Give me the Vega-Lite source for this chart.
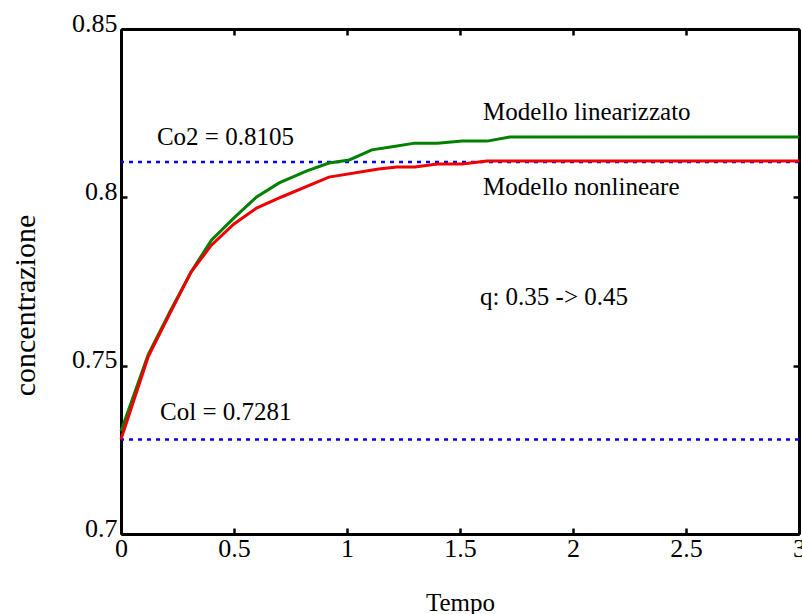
{
  "$schema": "https://vega.github.io/schema/vega-lite/v6.json",
  "width": 678,
  "height": 505,
  "autosize": {"type": "none"},
  "padding": {"left": 121, "top": 29, "right": 3, "bottom": 80},
  "background": "white",
  "config": {
    "view": {"stroke": null},
    "font": "Liberation Serif",
    "axis": {
      "grid": false,
      "domainColor": "black",
      "domainWidth": 3,
      "tickColor": "black",
      "tickWidth": 2.5,
      "tickSize": -6,
      "labelFont": "Liberation Serif",
      "labelFontSize": 26,
      "labelColor": "black",
      "titleFont": "Liberation Serif",
      "titleFontWeight": "normal",
      "titleColor": "black",
      "labelFlush": false,
      "labelOverlap": false
    }
  },
  "datasets": {
    "curves": [
      {"t": 0, "c": 0.7305, "model": "linearizzato"},
      {"t": 0.12, "c": 0.7532, "model": "linearizzato"},
      {"t": 0.22, "c": 0.7665, "model": "linearizzato"},
      {"t": 0.31, "c": 0.7778, "model": "linearizzato"},
      {"t": 0.40, "c": 0.7873, "model": "linearizzato"},
      {"t": 0.50, "c": 0.7939, "model": "linearizzato"},
      {"t": 0.60, "c": 0.8001, "model": "linearizzato"},
      {"t": 0.70, "c": 0.8043, "model": "linearizzato"},
      {"t": 0.82, "c": 0.8078, "model": "linearizzato"},
      {"t": 0.92, "c": 0.8102, "model": "linearizzato"},
      {"t": 1.01, "c": 0.8111, "model": "linearizzato"},
      {"t": 1.11, "c": 0.8141, "model": "linearizzato"},
      {"t": 1.20, "c": 0.8150, "model": "linearizzato"},
      {"t": 1.30, "c": 0.8161, "model": "linearizzato"},
      {"t": 1.40, "c": 0.8161, "model": "linearizzato"},
      {"t": 1.51, "c": 0.8167, "model": "linearizzato"},
      {"t": 1.62, "c": 0.8167, "model": "linearizzato"},
      {"t": 1.72, "c": 0.8179, "model": "linearizzato"},
      {"t": 3.0, "c": 0.8179, "model": "linearizzato"},
      {"t": 0, "c": 0.7281, "model": "nonlineare"},
      {"t": 0.12, "c": 0.7526, "model": "nonlineare"},
      {"t": 0.22, "c": 0.7660, "model": "nonlineare"},
      {"t": 0.31, "c": 0.7778, "model": "nonlineare"},
      {"t": 0.40, "c": 0.7858, "model": "nonlineare"},
      {"t": 0.50, "c": 0.7921, "model": "nonlineare"},
      {"t": 0.60, "c": 0.7968, "model": "nonlineare"},
      {"t": 0.71, "c": 0.8001, "model": "nonlineare"},
      {"t": 0.92, "c": 0.8060, "model": "nonlineare"},
      {"t": 1.14, "c": 0.8084, "model": "nonlineare"},
      {"t": 1.22, "c": 0.8090, "model": "nonlineare"},
      {"t": 1.30, "c": 0.8090, "model": "nonlineare"},
      {"t": 1.40, "c": 0.8099, "model": "nonlineare"},
      {"t": 1.51, "c": 0.8099, "model": "nonlineare"},
      {"t": 1.62, "c": 0.8108, "model": "nonlineare"},
      {"t": 3.0, "c": 0.8108, "model": "nonlineare"}
    ],
    "refs": [
      {"value": 0.7281},
      {"value": 0.8105}
    ],
    "notes": [
      {"t": 0.159, "c": 0.8180, "label": "Co2 = 0.8105"},
      {"t": 0.173, "c": 0.7362, "label": "Col = 0.7281"},
      {"t": 1.602, "c": 0.8253, "label": "Modello  linearizzato"},
      {"t": 1.602, "c": 0.8031, "label": "Modello  nonlineare"},
      {"t": 1.588, "c": 0.7704, "label": "q: 0.35  -> 0.45"}
    ]
  },
  "layer": [
    {
      "data": {"name": "refs"},
      "mark": {"type": "rule", "color": "#0000ff", "strokeWidth": 2.5, "strokeDash": [4, 5]},
      "encoding": {
        "y": {"field": "value", "type": "quantitative", "scale": {"domain": [0.7, 0.85], "nice": false, "zero": false}, "axis": null}
      }
    },
    {
      "data": {"name": "curves"},
      "mark": {"type": "line", "strokeWidth": 3},
      "encoding": {
        "x": {
          "field": "t", "type": "quantitative",
          "scale": {"domain": [0, 3], "nice": false, "zero": false},
          "axis": {
            "orient": "bottom", "values": [0, 0.5, 1, 1.5, 2, 2.5, 3], "format": ".2~f",
            "labelPadding": 7, "title": "Tempo", "titleFontSize": 25,
            "titleBaseline": "middle", "titleY": 68
          }
        },
        "y": {
          "field": "c", "type": "quantitative",
          "scale": {"domain": [0.7, 0.85], "nice": false, "zero": false},
          "axis": {
            "orient": "left", "values": [0.7, 0.75, 0.8, 0.85], "format": ".2~f",
            "labelPadding": 10, "labelOffset": -6, "title": "concentrazione", "titleFontSize": 30,
            "titleX": -96, "titleY": 276, "titleBaseline": "middle"
          }
        },
        "color": {
          "field": "model", "type": "nominal",
          "scale": {"domain": ["linearizzato", "nonlineare"], "range": ["#008000", "#ee0000"]},
          "legend": null
        }
      }
    },
    {
      "data": {"name": "notes"},
      "mark": {"type": "text", "align": "left", "baseline": "middle", "fontSize": 25, "font": "Liberation Serif", "color": "black"},
      "encoding": {
        "x": {
          "field": "t", "type": "quantitative",
          "scale": {"domain": [0, 3], "nice": false, "zero": false},
          "axis": {"orient": "top", "values": [0, 0.5, 1, 1.5, 2, 2.5, 3], "labels": false, "title": null}
        },
        "y": {
          "field": "c", "type": "quantitative",
          "scale": {"domain": [0.7, 0.85], "nice": false, "zero": false},
          "axis": {"orient": "right", "values": [0.7, 0.75, 0.8, 0.85], "labels": false, "title": null}
        },
        "text": {"field": "label", "type": "nominal"}
      }
    }
  ],
  "resolve": {"axis": {"x": "independent", "y": "independent"}}
}
